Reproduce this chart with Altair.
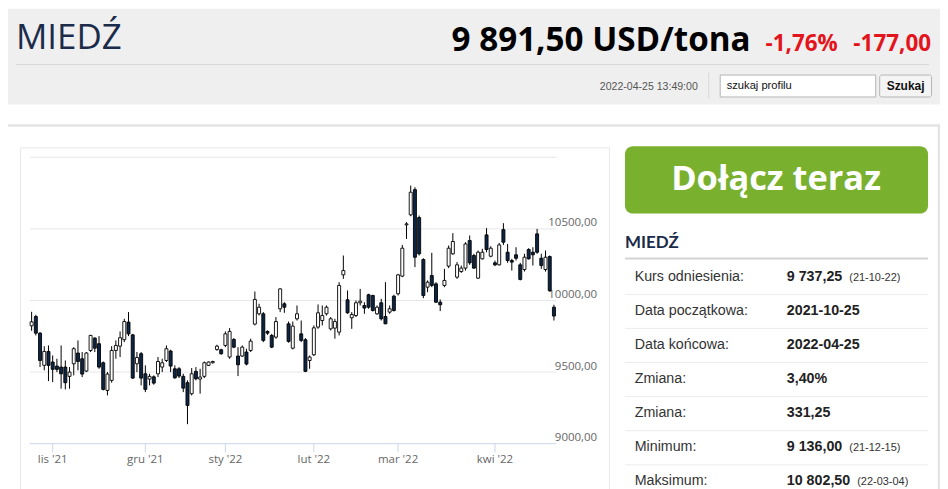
import altair as alt
import pandas as pd

# ---------------- data ----------------
opens = [9823, 9888, 9772, 9547, 9644, 9570, 9542, 9535, 9535, 9470,
         9558, 9633, 9593, 9507, 9651, 9737, 9698, 9565, 9372, 9442,
         9651, 9681, 9726, 9849, 9760, 9558, 9628, 9488, 9451, 9467,
         9488, 9535, 9581, 9647, 9523, 9523, 9470, 9426, 9349, 9505,
         9451, 9470, 9547, 9565, 9658, 9656, 9686, 9605, 9728, 9612,
         9612, 9640, 9651, 9835, 9907, 9907, 9784, 9756, 9744, 9942,
         9977, 9837, 9667, 9872, 9767, 9726, 9581, 9621, 9814, 9860,
         9907, 9802, 9807, 9779, 10179, 10005, 9879, 9895, 9984, 9965,
         10040, 10035, 9907, 9984, 9888, 9919, 10030, 10047, 10170, 10528,
         10598, 10774, 10579, 10286, 10093, 10174, 10116, 9988, 10105, 10240,
         10326, 10163, 10202, 10226, 10419, 10314, 10156, 10291, 10458, 10309,
         10263, 10249, 10495, 10337, 10279, 10319, 10249, 10216, 10356, 10337,
         10465, 10295, 10216, 10307, 9953]
highs = [9921, 9900, 9779, 9681, 9686, 9616, 9593, 9686, 9581, 9535,
         9674, 9721, 9640, 9640, 9760, 9744, 9751, 9574, 9500, 9681,
         9721, 9784, 9872, 9919, 9767, 9640, 9640, 9547, 9488, 9477,
         9605, 9593, 9686, 9656, 9547, 9535, 9488, 9442, 9528, 9535,
         9523, 9574, 9574, 9579, 9691, 9663, 9784, 9807, 9737, 9674,
         9686, 9663, 9733, 10063, 9977, 9919, 9791, 9767, 9884, 10086,
         9988, 9853, 9853, 9965, 9860, 9737, 9616, 9826, 9972, 9965,
         9965, 9884, 9872, 10128, 10314, 10070, 9919, 10000, 10081, 9988,
         10047, 10040, 9965, 10012, 10128, 9965, 10040, 10186, 10388, 10547,
         10802.5, 10791, 10593, 10295, 10140, 10333, 10128, 10007, 10221, 10384,
         10470, 10268, 10244, 10407, 10454, 10326, 10349, 10361, 10505, 10379,
         10279, 10402, 10540, 10395, 10291, 10372, 10263, 10326, 10365, 10372,
         10500, 10326, 10349, 10314, 9970]
lows = [9788, 9756, 9535, 9512, 9437, 9430, 9500, 9384, 9379, 9384,
        9477, 9512, 9465, 9500, 9640, 9640, 9523, 9372, 9337, 9426,
        9593, 9605, 9709, 9751, 9453, 9500, 9407, 9360, 9407, 9412,
        9465, 9500, 9570, 9500, 9453, 9458, 9360, 9136, 9337, 9442,
        9349, 9458, 9542, 9560, 9649, 9621, 9674, 9593, 9667, 9472,
        9605, 9547, 9640, 9826, 9895, 9709, 9760, 9667, 9733, 9919,
        9914, 9705, 9658, 9860, 9709, 9500, 9523, 9612, 9802, 9826,
        9895, 9791, 9733, 9756, 10151, 9907, 9802, 9884, 9965, 9907,
        9942, 9923, 9900, 9860, 9835, 9907, 9923, 10035, 10163, 10430,
        10588, 10233, 10314, 10016, 10058, 10093, 9984, 9926, 10093, 10226,
        10319, 10151, 10193, 10209, 10249, 10221, 10151, 10286, 10337, 10302,
        10240, 10244, 10388, 10263, 10209, 10279, 10140, 10202, 10286, 10244,
        10326, 10221, 10202, 10063, 9860]
closes = [9851, 9772, 9581, 9644, 9547, 9519, 9519, 9488, 9426, 9500,
          9663, 9574, 9486, 9633, 9756, 9667, 9535, 9379, 9486, 9651,
          9686, 9740, 9853, 9767, 9458, 9602, 9458, 9379, 9470, 9423,
          9574, 9565, 9663, 9542, 9460, 9472, 9388, 9267, 9488, 9453,
          9465, 9565, 9570, 9574, 9681, 9628, 9767, 9784, 9674, 9551,
          9674, 9556, 9716, 10007, 9953, 9721, 9772, 9674, 9853, 10081,
          9953, 9714, 9821, 9907, 9721, 9505, 9605, 9809, 9914, 9895,
          9953, 9872, 9853, 10105, 10209, 9914, 9902, 9984, 9995, 9947,
          9953, 9930, 9953, 9872, 9837, 9942, 9930, 10179, 10365, 10535,
          10756, 10302, 10326, 10035, 10128, 10105, 9988, 9970, 10140, 10365,
          10412, 10249, 10226, 10395, 10263, 10226, 10337, 10337, 10356, 10365,
          10249, 10388, 10407, 10279, 10268, 10295, 10147, 10302, 10291, 10319,
          10337, 10244, 10302, 10068.5, 9891.5]

month_labels = ["lis '21", "gru '21", "sty '22", "lut '22", "mar '22", "kwi '22"]
month_index = [5, 27, 46, 67, 87, 110]          # trading-day index of month start
grid_values = [9500, 10000, 10500, 11000]
axis_values = [9000, 9500, 10000, 10500]
axis_labels = ["9000,00", "9500,00", "10000,00", "10500,00"]

header_title = "MIEDŹ"
price_text = "9 891,50 USD/tona"
pct_text = "-1,76%"
chg_text = "-177,00"
stamp_text = "2022-04-25 13:49:00"
search_text = "szukaj profilu"
button_text = "Szukaj"
join_text = "Dołącz teraz"
panel_title = "MIEDŹ"
stat_labels = ["Kurs odniesienia:", "Data początkowa:", "Data końcowa:", "Zmiana:",
               "Zmiana:", "Minimum:", "Maksimum:"]
stat_values = ["9 737,25", "2021-10-25", "2022-04-25", "3,40%", "331,25",
               "9 136,00", "10 802,50"]
stat_dates = ["(21-10-22)", "", "", "", "", "(21-12-15)", "(22-03-04)"]

# ---------------- styles ----------------
UP_FILL = "#ffffff"
DOWN_FILL = "#0d2545"
NAVY = "#1b2b4a"
RED = "#e3141b"
GREEN = "#79b12f"
LABEL_GREY = "#666666"
SANS = "Open Sans"
ARIAL = "Liberation Sans, Arial, sans-serif"
NARROW = "Liberation Sans Narrow, Arial Narrow, Liberation Sans, sans-serif"

n = len(opens)
candles = pd.DataFrame({
    "i": list(range(n)),
    "open": opens, "high": highs, "low": lows, "close": closes,
})
candles["fillc"] = [UP_FILL if c >= o else DOWN_FILL for o, c in zip(opens, closes)]

XS = alt.Scale(domain=[0, n - 1], range=[23.7, 547.7], zero=False, nice=False, padding=0)
YS = alt.Scale(domain=[9000, 11000], range=[436.3, 149], zero=False, nice=False)

one = pd.DataFrame({"k": [0]})


def box(x, y, x2, y2, fill, stroke=None, sw=0.0, r=0):
    kw = dict(fill=fill)
    if stroke:
        kw.update(stroke=stroke, strokeWidth=sw)
    if r:
        kw["cornerRadius"] = r
    return alt.Chart(one).mark_rect(**kw).encode(
        x=alt.value(x), x2=alt.value(x2), y=alt.value(y), y2=alt.value(y2))


def line(x, y, x2, y2, color, sw=1.0):
    return alt.Chart(one).mark_rule(color=color, strokeWidth=sw).encode(
        x=alt.value(x), x2=alt.value(x2), y=alt.value(y), y2=alt.value(y2))


def txt(s, x, y, size, color, font, weight="normal", align="left", baseline="alphabetic"):
    return alt.Chart(one).mark_text(
        text=s, fontSize=size, color=color, font=font, fontWeight=weight,
        align=align, baseline=baseline).encode(x=alt.value(x), y=alt.value(y))


def bold_width(s, size):
    w = 0.0
    for ch in s:
        if ch.isdigit():
            w += 0.556
        elif ch in " ,.":
            w += 0.278
        elif ch == "%":
            w += 0.889
        elif ch == "-":
            w += 0.333
        else:
            w += 0.6
    return w * size


layers = []

# ---- header ----
layers.append(box(0, 0, 935, 96, "#efefef"))
layers.append(line(8, 56, 924, 56, "#d6d6d6", 1))
layers.append(line(703, 64, 703, 90, "#d9d9d9", 1))
layers.append(box(714.5, 66.5, 870.5, 88.5, "#ffffff", "#b5b5b5", 1))
layers.append(box(874.5, 66.5, 926.5, 88.5, "#f4f4f4", "#b5b5b5", 1, 2))
layers.append(txt(header_title, 8, 40, 35, NAVY, SANS))
layers.append(txt(price_text, 745, 42, 33.3, "#000000", SANS, "bold", "right"))
layers.append(txt(pct_text, 760, 42, 22.5, RED, SANS, "bold"))
layers.append(txt(chg_text, 926, 42, 22.5, RED, SANS, "bold", "right"))
layers.append(txt(stamp_text, 692, 78, 10.6, "#555555", NARROW, "normal", "right", "middle"))
layers.append(txt(search_text, 721, 77, 11.2, "#111111", NARROW, "normal", "left", "middle"))
layers.append(txt(button_text, 900.5, 77.5, 12, "#111111", NARROW, "bold", "center", "middle"))

# ---- containers ----
layers.append(box(-2, 117, 934, 500, "#ffffff", "#e4e4e4", 2.5))
layers.append(box(12.5, 139.5, 603.5, 500, "#ffffff", "#e8e8e8", 1))

# ---- candlestick chart ----
grid_df = pd.DataFrame({"v": grid_values})
layers.append(alt.Chart(grid_df).mark_rule(color="#e6e6e6", strokeWidth=1).encode(
    y=alt.Y("v:Q", scale=YS, axis=None), x=alt.value(22), x2=alt.value(550)))

axis_df = pd.DataFrame({"v": axis_values, "lab": axis_labels})
layers.append(alt.Chart(axis_df).mark_text(
    align="right", baseline="middle", dy=-5.5, fontSize=11.5, font=SANS, color=LABEL_GREY
).encode(y=alt.Y("v:Q", scale=YS, axis=None), x=alt.value(591), text="lab:N"))

base_df = pd.DataFrame({"v": [9000]})
layers.append(alt.Chart(base_df).mark_rule(color="#ccd6eb", strokeWidth=1).encode(
    y=alt.Y("v:Q", scale=YS, axis=None), x=alt.value(22), x2=alt.value(550)))

month_df = pd.DataFrame({"i": month_index, "lab": month_labels})
layers.append(alt.Chart(month_df).mark_rule(color="#ccd6eb", strokeWidth=1).encode(
    x=alt.X("i:Q", scale=XS, axis=None), y=alt.value(436.3), y2=alt.value(445)))
layers.append(alt.Chart(month_df).mark_text(
    align="center", baseline="middle", fontSize=11.5, font=SANS, color=LABEL_GREY
).encode(x=alt.X("i:Q", scale=XS, axis=None), y=alt.value(452.5), text="lab:N"))

base = alt.Chart(candles)
layers.append(base.mark_rule(color="#000000", strokeWidth=1).encode(
    x=alt.X("i:Q", scale=XS, axis=None),
    y=alt.Y("low:Q", scale=YS, axis=None), y2="high:Q"))
layers.append(base.mark_bar(size=3, stroke="#000000", strokeWidth=0.9).encode(
    x=alt.X("i:Q", scale=XS, axis=None),
    y=alt.Y("open:Q", scale=YS, axis=None), y2="close:Q",
    fill=alt.Fill("fillc:N", scale=None)))

# ---- side panel ----
layers.append(box(619, 138, 923, 205.5, GREEN, r=8))
layers.append(txt(join_text, 770.5, 182, 34.5, "#ffffff", SANS, "bold", "center"))
layers.append(txt(panel_title, 619, 239.5, 17, NAVY, "Lato", "bold"))
layers.append(line(619, 250.5, 923, 250.5, "#d3d3d3", 2))

ROW0, ROWSTEP = 268.9, 34.2
for k, (lab, val, dt) in enumerate(zip(stat_labels, stat_values, stat_dates)):
    yc = ROW0 + ROWSTEP * k
    layers.append(txt(lab, 628.7, yc, 14.3, "#333333", ARIAL, "normal", "left", "middle"))
    layers.append(txt(val, 781.3, yc, 14.3, "#222222", ARIAL, "bold", "left", "middle"))
    if dt:
        layers.append(txt(dt, 781.3 + bold_width(val, 14.3) + 7, yc + 1, 11, "#333333",
                          ARIAL, "normal", "left", "middle"))
    if k < len(stat_labels) - 1:
        layers.append(line(619, yc + 17.6, 923, yc + 17.6, "#ececec", 1))

chart = alt.layer(*layers).properties(
    width=935, height=481, padding=0,
    autosize=alt.AutoSizeParams(type="none"),
    background="#ffffff",
).configure_view(stroke=None)

chart.save("out.html", embed_options={"renderer": "svg", "actions": False})
